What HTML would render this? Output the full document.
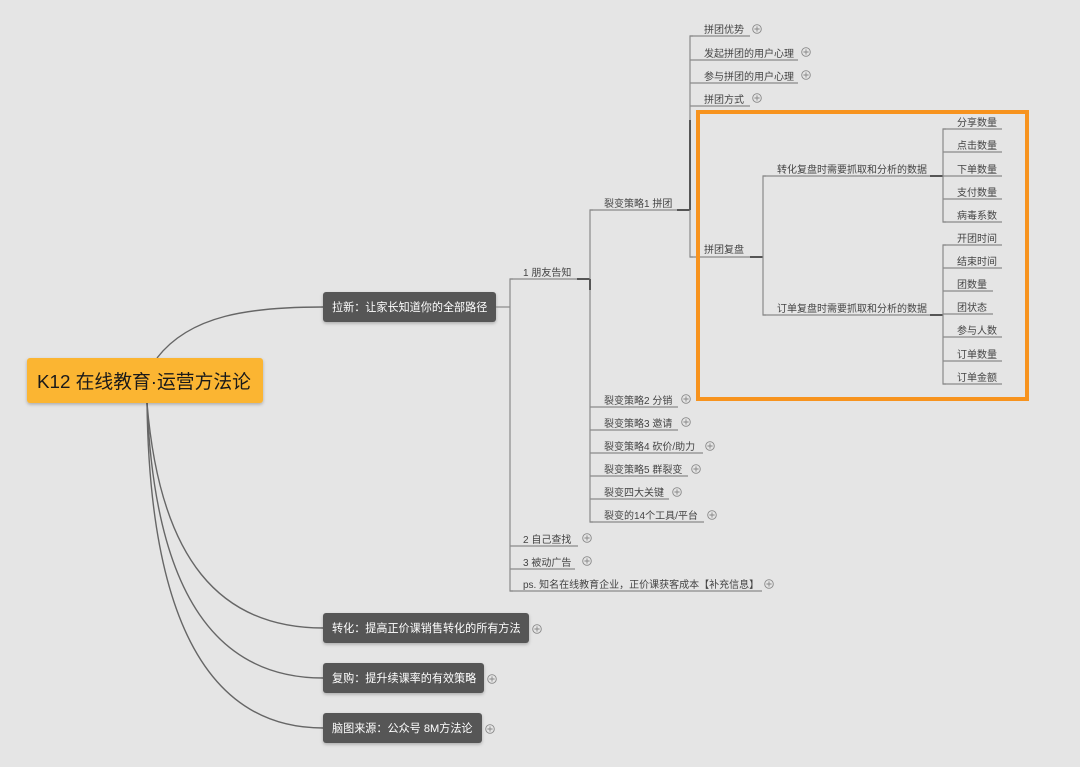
<!DOCTYPE html>
<html><head><meta charset="utf-8"><style>
html,body{margin:0;padding:0;background:#e5e5e5;}
svg{display:block;}
text{font-family:"Liberation Sans","Noto Sans CJK SC",sans-serif;}
.t{font-size:10px;fill:#444;}
.w{font-size:11.1px;fill:#fff;}
.l{stroke:#8a8a8a;stroke-width:1.2;fill:none;}
.d{stroke:#555;stroke-width:2;fill:none;}
.p{stroke:#888;stroke-width:0.9;fill:none;}
</style></head><body>
<svg width="1080" height="767" viewBox="0 0 1080 767" xmlns="http://www.w3.org/2000/svg">
<rect width="1080" height="767" fill="#e5e5e5"/>
<defs>
<filter id="sh" x="-10%" y="-20%" width="120%" height="150%"><feDropShadow dx="0" dy="1.5" stdDeviation="1.5" flood-color="#000" flood-opacity="0.25"/></filter>
<g id="plus"><circle r="4.3" class="p"/><path d="M-2.6 0H2.6M0 -2.6V2.6" class="p"/></g>
</defs>

<!-- root curves -->
<g stroke="#666" stroke-width="1.4" fill="none">
<path d="M157 358 C190 315 250 307 323 307"/>
<path d="M147 403 C160 560 220 628 323 628"/>
<path d="M147 403 C155 600 220 678 323 678"/>
<path d="M147 403 C150 640 220 728 323 728"/>
</g>

<!-- root -->
<rect x="27" y="358" width="236" height="45" rx="3" fill="#fbb532" filter="url(#sh)"/>
<text x="37" y="388" style="font-size:18.8px;fill:#1a1a1a">K12 在线教育·运营方法论</text>

<!-- level1 boxes -->
<rect x="323" y="292" width="173" height="30" rx="3" fill="#575757" filter="url(#sh)"/>
<text x="332" y="311" class="w">拉新：让家长知道你的全部路径</text>
<rect x="323" y="613" width="206" height="30" rx="3" fill="#575757" filter="url(#sh)"/>
<text x="332" y="632" class="w">转化：提高正价课销售转化的所有方法</text>
<rect x="323" y="663" width="161" height="30" rx="3" fill="#575757" filter="url(#sh)"/>
<text x="332" y="682" class="w">复购：提升续课率的有效策略</text>
<rect x="323" y="713" width="159" height="30" rx="3" fill="#575757" filter="url(#sh)"/>
<text x="332" y="732" class="w">脑图来源：公众号 8M方法论</text>
<use href="#plus" x="537" y="629"/>
<use href="#plus" x="492" y="679"/>
<use href="#plus" x="490" y="729"/>

<!-- level2 -->
<path class="l" d="M496 307H510"/>
<path class="l" d="M513 279H510V591H513"/>
<path class="l" d="M510 279H590"/><path class="d" d="M577 279H590"/>
<text x="523" y="276" class="t">1 朋友告知</text>
<path class="l" d="M510 546H578"/><text x="523" y="543" class="t">2 自己查找</text><use href="#plus" x="587" y="538"/>
<path class="l" d="M510 569H575"/><text x="523" y="566" class="t">3 被动广告</text><use href="#plus" x="587" y="561"/>
<path class="l" d="M510 591H762"/><text x="523" y="588" class="t">ps. 知名在线教育企业，正价课获客成本【补充信息】</text><use href="#plus" x="769" y="584"/>

<!-- level3 -->
<path class="l" d="M593 210H590V522H593"/>
<path class="d" d="M590 279V290"/>
<path class="l" d="M590 210H690"/><path class="d" d="M677 210H690"/>
<text x="604" y="207" class="t">裂变策略1 拼团</text>
<path class="l" d="M590 407H678"/><text x="604" y="404" class="t">裂变策略2 分销</text><use href="#plus" x="686" y="399"/>
<path class="l" d="M590 430H678"/><text x="604" y="427" class="t">裂变策略3 邀请</text><use href="#plus" x="686" y="422"/>
<path class="l" d="M590 453H703"/><text x="604" y="450" class="t">裂变策略4 砍价/助力</text><use href="#plus" x="710" y="446"/>
<path class="l" d="M590 476H688"/><text x="604" y="473" class="t">裂变策略5 群裂变</text><use href="#plus" x="696" y="469"/>
<path class="l" d="M590 499H669"/><text x="604" y="496" class="t">裂变四大关键</text><use href="#plus" x="677" y="492"/>
<path class="l" d="M590 522H704"/><text x="604" y="519" class="t">裂变的14个工具/平台</text><use href="#plus" x="712" y="515"/>

<!-- level4 -->
<path class="l" d="M693 36H690V257H693"/>
<path class="d" d="M690 120V210"/>
<path class="l" d="M690 36H750"/><text x="704" y="33" class="t">拼团优势</text><use href="#plus" x="757" y="29"/>
<path class="l" d="M690 60H798"/><text x="704" y="57" class="t">发起拼团的用户心理</text><use href="#plus" x="806" y="52"/>
<path class="l" d="M690 83H798"/><text x="704" y="80" class="t">参与拼团的用户心理</text><use href="#plus" x="806" y="75"/>
<path class="l" d="M690 106H750"/><text x="704" y="103" class="t">拼团方式</text><use href="#plus" x="757" y="98"/>
<path class="l" d="M690 257H763"/><path class="d" d="M750 257H763"/><text x="704" y="253" class="t">拼团复盘</text>

<!-- level5 -->
<path class="l" d="M766 176H763V315H766"/>
<path class="l" d="M763 176H943"/><path class="d" d="M930 176H943"/>
<text x="777" y="173" class="t">转化复盘时需要抓取和分析的数据</text>
<path class="l" d="M763 315H943"/><path class="d" d="M930 315H943"/>
<text x="777" y="312" class="t">订单复盘时需要抓取和分析的数据</text>

<!-- level6 -->
<path class="l" d="M946 129H943V222H946"/>
<path class="l" d="M946 245H943V384H946"/>
<g class="l">
<path d="M943 129H1002"/><path d="M943 152H1002"/><path d="M943 176H1002"/><path d="M943 199H1002"/><path d="M943 222H1002"/>
<path d="M943 245H1002"/><path d="M943 268H1002"/><path d="M943 291H993"/><path d="M943 314H993"/><path d="M943 337H1002"/><path d="M943 361H1002"/><path d="M943 384H1002"/>
</g>
<text x="957" y="126" class="t">分享数量</text>
<text x="957" y="149" class="t">点击数量</text>
<text x="957" y="173" class="t">下单数量</text>
<text x="957" y="196" class="t">支付数量</text>
<text x="957" y="219" class="t">病毒系数</text>
<text x="957" y="242" class="t">开团时间</text>
<text x="957" y="265" class="t">结束时间</text>
<text x="957" y="288" class="t">团数量</text>
<text x="957" y="311" class="t">团状态</text>
<text x="957" y="334" class="t">参与人数</text>
<text x="957" y="358" class="t">订单数量</text>
<text x="957" y="381" class="t">订单金额</text>

<!-- orange highlight -->
<rect x="698" y="112" width="329" height="287" fill="none" stroke="#f7931e" stroke-width="4"/>
</svg>
</body></html>
